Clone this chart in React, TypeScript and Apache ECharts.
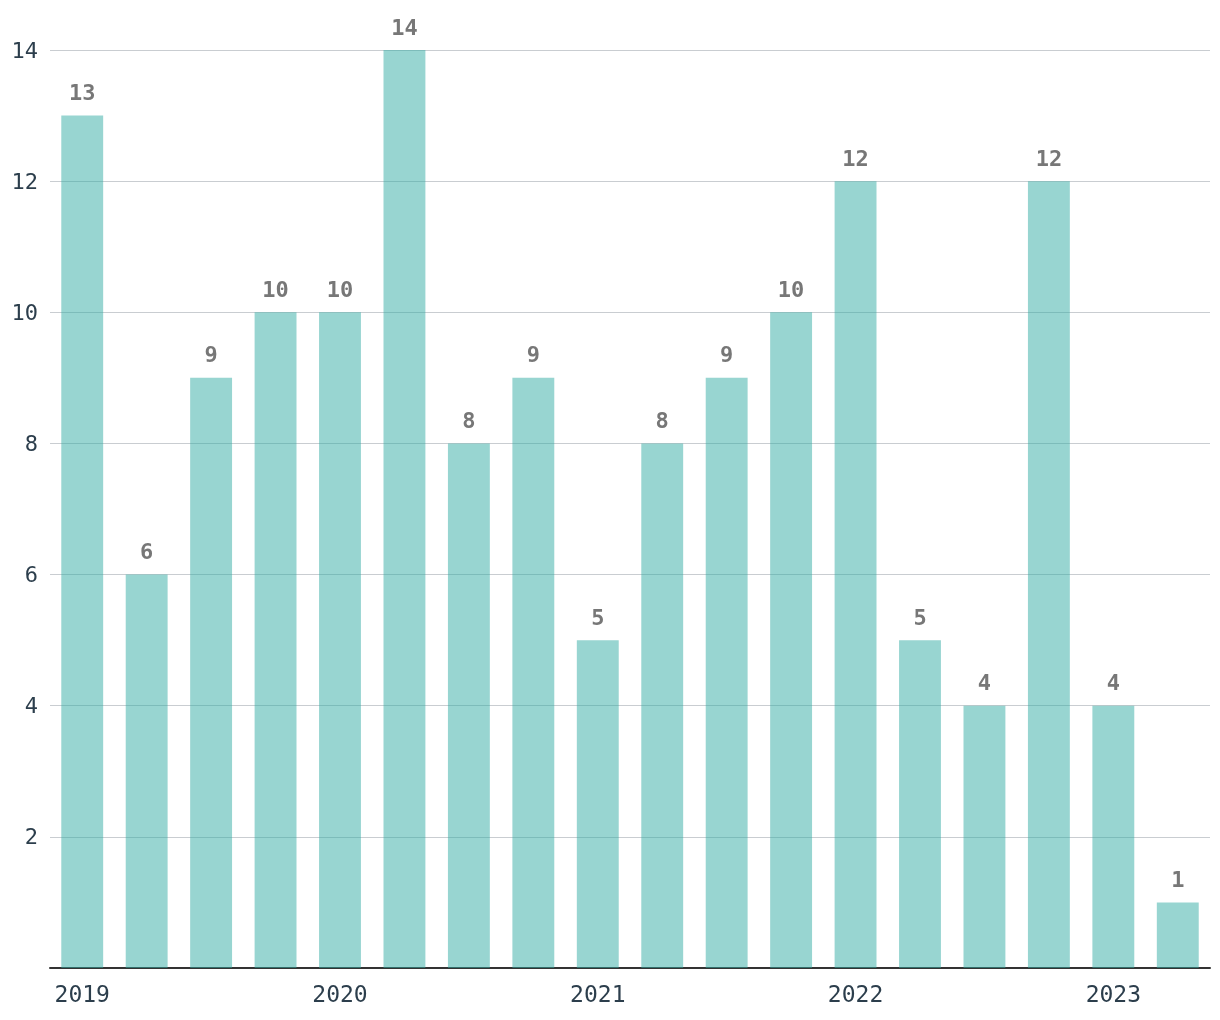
import React, { useEffect, useRef } from "react";
import * as echarts from "echarts";

const quarters = [
  "2019 Q1", "2019 Q2", "2019 Q3", "2019 Q4",
  "2020 Q1", "2020 Q2", "2020 Q3", "2020 Q4",
  "2021 Q1", "2021 Q2", "2021 Q3", "2021 Q4",
  "2022 Q1", "2022 Q2", "2022 Q3", "2022 Q4",
  "2023 Q1", "2023 Q2",
];
const counts = [13, 6, 9, 10, 10, 14, 8, 9, 5, 8, 9, 10, 12, 5, 4, 12, 4, 1];

const MONO = "'DejaVu Sans Mono', 'Liberation Mono', monospace";

export default function App() {
  const ref = useRef<HTMLDivElement>(null);
  useEffect(() => {
    if (!ref.current) return;
    const chart = echarts.init(ref.current, undefined, { renderer: "svg" });
    chart.setOption({
      animation: false,
      grid: { left: 50, right: 10, top: 50, bottom: 52, containLabel: false },
      xAxis: {
        type: "category",
        data: quarters,
        axisTick: { show: false },
        axisLine: { show: true, lineStyle: { color: "#333333", width: 2 } },
        axisLabel: {
          interval: 3,
          margin: 14,
          color: "#2c3e4c",
          fontFamily: MONO,
          fontSize: 23,
          formatter: (v: string) => v.split(" ")[0],
        },
      },
      yAxis: {
        type: "value",
        min: 0,
        max: 14,
        interval: 2,
        axisLine: { show: false },
        axisTick: { show: false },
        splitLine: { lineStyle: { color: "#c9cdd1", width: 1 } },
        axisLabel: {
          margin: 12,
          color: "#2c3e4c",
          fontFamily: MONO,
          fontSize: 22,
          formatter: (v: number) => (v === 0 ? "" : String(v)),
        },
      },
      series: [
        {
          type: "bar",
          data: counts,
          barCategoryGap: "35%",
          itemStyle: { color: "rgba(49,171,163,0.5)" },
          label: {
            show: true,
            position: "top",
            distance: 12,
            color: "#777777",
            fontWeight: "bold",
            fontFamily: MONO,
            fontSize: 22,
          },
        },
      ],
    });
    return () => chart.dispose();
  }, []);
  return (
    <div
      ref={ref}
      style={{ position: "fixed", left: 0, top: 0, width: 1220, height: 1020 }}
    />
  );
}
